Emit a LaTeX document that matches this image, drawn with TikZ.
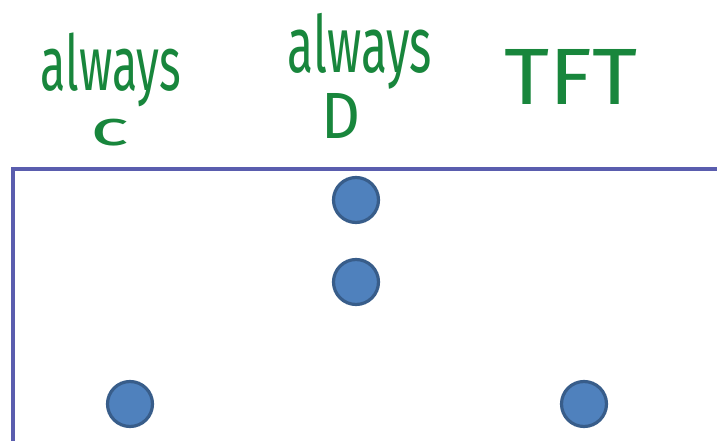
\documentclass[tikz,border=0pt]{standalone}
\usepackage{fontspec}
\setmainfont{Fira Sans}
\usepackage{graphicx}
\definecolor{ink}{HTML}{18863C}
\definecolor{frame}{HTML}{5A5DAE}
\definecolor{dotfill}{HTML}{4F81BD}
\definecolor{dotline}{HTML}{385D8A}
\tikzset{
  hand/.style={inner sep=0pt, outer sep=0pt, text=ink, anchor=center},
  dot/.style={circle, fill=dotfill, draw=dotline, line width=3.2pt, minimum size=45pt, inner sep=0pt},
  framestyle/.style={draw=frame, line width=3.2pt}
}
\begin{document}
\begin{tikzpicture}[x=1pt,y=-1pt]
\useasboundingbox (0,0) rectangle (717,441);
\fill[white] (0,0) rectangle (717,441);
% labels
\node[hand] (lc1) at (111,70) {\resizebox*{140pt}{74pt}{always}};
\node[hand] (lc2) at (110,133) {\resizebox*{39pt}{27pt}{c}};
\node[hand] (ld1) at (360,51) {\resizebox*{144pt}{76pt}{always}};
\node[hand] (ld2) at (341,116) {\resizebox*{39pt}{45pt}{D}};
\node[hand] (lt) at (571,77) {\resizebox*{133pt}{55pt}{TFT}};
% frame
\coordinate (fr) at (717,169);
\coordinate (fc) at (13,169);
\coordinate (fb) at (13,441);
\draw[framestyle] (fr) -- (fc) -- (fb);
% dots
\node[dot] (d1) at (356,200) {};
\node[dot] (d2) at (356,282) {};
\node[dot] (d3) at (130,404) {};
\node[dot] (d4) at (584,404) {};
\end{tikzpicture}
\end{document}
